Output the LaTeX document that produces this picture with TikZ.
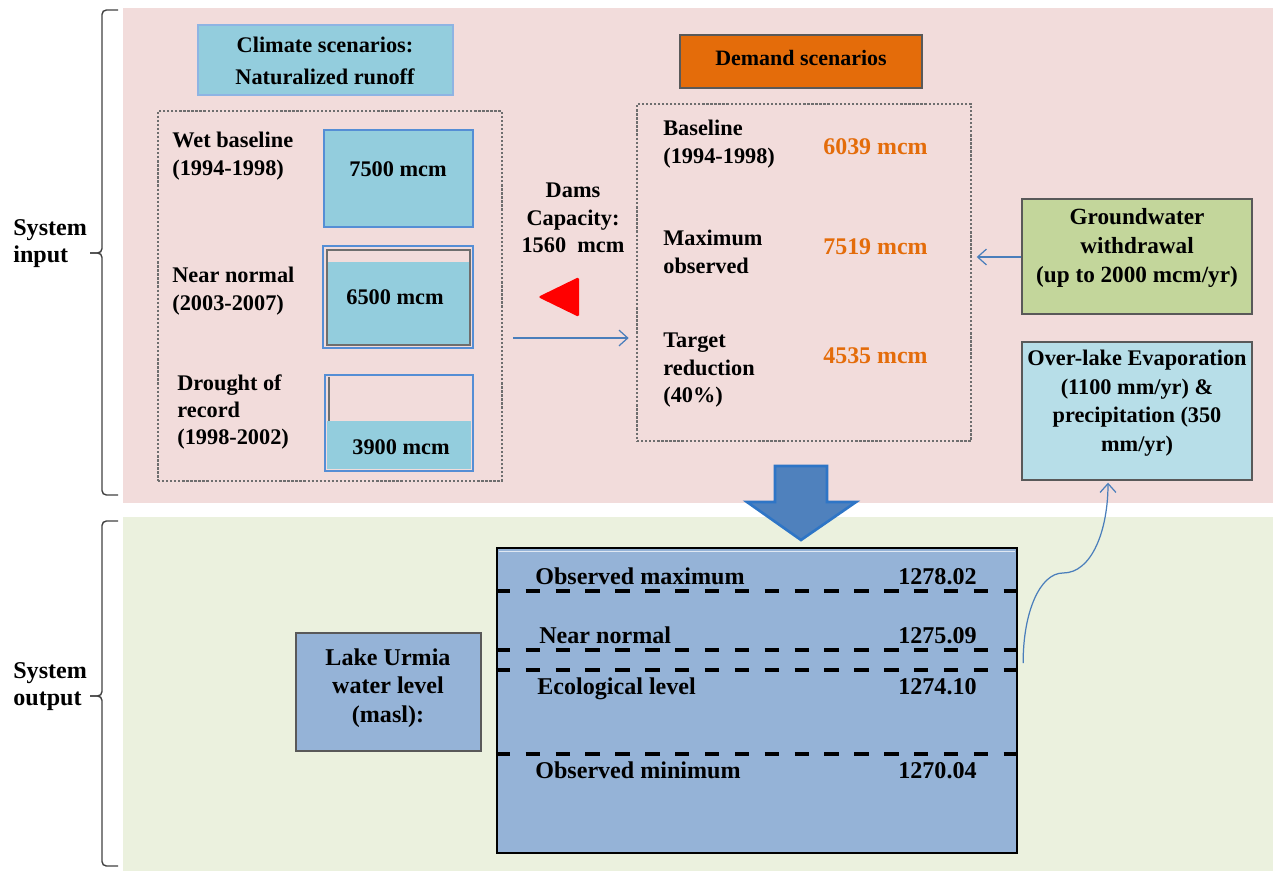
\documentclass[tikz,border=0pt]{standalone}
\usepackage{fontspec}
\setmainfont{Liberation Serif}
\usetikzlibrary{arrows.meta,fit,calc}
\definecolor{pinkbg}{HTML}{F2DCDB}
\definecolor{greenbg}{HTML}{EBF1DE}
\definecolor{climfill}{HTML}{93CDDD}
\definecolor{climborder}{HTML}{8EB4E3}
\definecolor{boxblue}{HTML}{558ED5}
\definecolor{demfill}{HTML}{E46C0A}
\definecolor{gwfill}{HTML}{C3D69B}
\definecolor{olfill}{HTML}{B7DEE8}
\definecolor{lakefill}{HTML}{95B3D7}
\definecolor{arrowfill}{HTML}{4F81BD}
\definecolor{arrowborder}{HTML}{2E75C6}
\definecolor{linkblue}{HTML}{4A7EBB}
\definecolor{orangetxt}{HTML}{E46C0A}
\definecolor{darkborder}{HTML}{595959}
\definecolor{dotgray}{HTML}{6E6E6E}
\definecolor{bracegray}{HTML}{404040}
\begin{document}
\begin{tikzpicture}[x=0.02cm,y=-0.02cm,
  txt/.style={inner sep=0pt, font=\bfseries\fontsize{12.7}{15.5}\selectfont},
  bigtxt/.style={inner sep=0pt, font=\bfseries\fontsize{13.7}{16.4}\selectfont},
  orange/.style={inner sep=0pt, text=orangetxt, font=\bfseries\fontsize{13.6}{15.9}\selectfont},
  frame/.style={inner sep=0pt, fit={#1}},
  dottedbox/.style={draw=dotgray, line width=1.5pt, dash pattern=on 1.3pt off 1pt},
  mcmbox/.style={draw=boxblue, line width=1.2pt},
  greybox/.style={draw=darkborder, line width=0.8pt},
  levelline/.style={line width=2.7pt, dash pattern=on 8.2pt off 8.8pt},
  linkarrow/.style={draw=linkblue, line width=0.7pt, -{Straight Barb[length=5pt,width=9pt]}},
  bracepath/.style={draw=bracegray, line width=0.8pt, rounded corners=2.5pt},
]
\useasboundingbox (0,0) rectangle (1273,871);
% backgrounds
\fill[pinkbg] (123,8) rectangle (1273,503);
\fill[greenbg] (123,517) rectangle (1273,871);

% braces
\draw[bracepath] (118,10) -- (102,10) -- (102,253) -- (90,253);
\draw[bracepath] (90,253) -- (102,253) -- (102,495) -- (118,495);
\draw[bracepath] (118,521) -- (102,521) -- (102,696) -- (90,696);
\draw[bracepath] (90,696) -- (102,696) -- (102,866) -- (118,866);
\node[bigtxt, anchor=north west, align=left, font=\bfseries\fontsize{13.7}{15.3}\selectfont] (sysin) at (13,219) {System\\input};
\node[bigtxt, anchor=north west, align=left, font=\bfseries\fontsize{13.7}{15.3}\selectfont] (sysout) at (13,662) {System\\output};

% climate scenarios
\node[frame={(198,25) (453,95)}, fill=climfill, draw=climborder, line width=0.8pt] (clim) {};
\node[txt, anchor=north, align=center, font=\bfseries\fontsize{12.7}{18}\selectfont] (climtxt) at (325,37) {Climate scenarios:\\Naturalized runoff};

\node[frame={(158,111) (502,481)}, dottedbox] (climbox) {};
\node[txt, anchor=north west, align=left] (twet) at (172,132) {Wet baseline\\(1994-1998)};
\node[txt, anchor=north west, align=left] (tnear) at (172,267) {Near normal\\(2003-2007)};
\node[txt, anchor=north west, align=left] (tdrought) at (177,374) {Drought of\\record\\(1998-2002)};

% 7500 box
\node[frame={(324,130) (473,227)}, fill=climfill, mcmbox] (b1) {};
\node[txt, anchor=base west] (b1t) at (349,177) {7500 mcm};
% 6500 box
\node[frame={(323,246) (473,348)}, mcmbox] (b2) {};
\fill[pinkbg] (327,250) rectangle (470,262);
\fill[climfill] (327,262) rectangle (470,345);
\draw[dotgray, line width=0.6pt] (327,250) rectangle (470,345);
\node[txt, anchor=base west] (b2t) at (346,304) {6500 mcm};
% 3900 box
\node[frame={(325,375) (473,471)}, mcmbox] (b3) {};
\fill[climfill] (327,421) rectangle (471,469);
\draw[dotgray, line width=0.6pt] (329,377) -- (329,421);
\node[txt, anchor=base west] (b3t) at (352,454) {3900 mcm};

% dams
\node[txt, anchor=north, align=center] (dams) at (573,183) {Dams\\Capacity:\\1560~~mcm};
\fill[red, rounded corners=1pt] (538,297) -- (579,277) -- (579,317) -- cycle;

% demand scenarios
\node[frame={(680,35) (922,88)}, fill=demfill, draw=darkborder, line width=0.6pt] (dem) {};
\node[txt, anchor=base, font=\bfseries\fontsize{12.5}{15}\selectfont] (demtxt) at (801,66) {Demand scenarios};

\node[frame={(637,104) (971,441)}, dottedbox] (demandbox) {};
\node[txt, anchor=north west, align=left] (tbase) at (663,120) {Baseline\\(1994-1998)};
\node[txt, anchor=north west, align=left] (tmax) at (663,230) {Maximum\\observed};
\node[txt, anchor=north west, align=left] (ttarget) at (663,333) {Target\\reduction\\(40\%)};
\node[orange, anchor=base west] (v1) at (823,155) {6039 mcm};
\node[orange, anchor=base west] (v2) at (823,255) {7519 mcm};
\node[orange, anchor=base west] (v3) at (823,363) {4535 mcm};

% climate -> demand arrow
\coordinate (ylink) at (0,338);
\draw[linkarrow, shorten >=4pt] ([xshift=0.2cm]climbox.east |- ylink) -- (demandbox.west |- ylink);

% groundwater
\node[frame={(1022,199) (1252,314)}, fill=gwfill, greybox] (gw) {};
\node[txt, anchor=north, align=center, font=\bfseries\fontsize{13.2}{16.5}\selectfont] (gwtxt) at (1137,208) {Groundwater\\withdrawal\\(up to 2000 mcm/yr)};
\draw[linkarrow, shorten >=2.5pt] (gw.west |- 0,257) -- (demandbox.east |- 0,257);

% over-lake
\node[frame={(1022,342) (1252,480)}, fill=olfill, greybox] (ol) {};
\node[txt, anchor=north, align=center, font=\bfseries\fontsize{12.7}{16.2}\selectfont] (oltxt) at (1137,350) {Over-lake Evaporation\\(1100 mm/yr) \&\\precipitation (350\\mm/yr)};

% big down arrow
\draw[fill=arrowfill, draw=arrowborder, line width=1.5pt, line join=miter]
  (775,466) -- (827,466) -- (827,502) -- (856,502) -- (801,540) -- (747,502) -- (775,502) -- cycle;

% lake urmia label box
\node[frame={(296,633) (481,751)}, fill=lakefill, greybox] (lu) {};
\node[bigtxt, anchor=north, align=center] (lutxt) at (388,648) {Lake Urmia\\water level\\(masl):};

% lake levels box
\node[frame={(497,548) (1017,853)}, fill=lakefill, draw=black, line width=1.3pt] (lake) {};
\draw[white!70!lakefill, line width=0.8pt] (499,551.5) -- (1015,551.5);
\foreach \yy in {591,650,670,754} {\draw[levelline] (lake.west |- 0,\yy) -- (lake.east |- 0,\yy);}
\node[bigtxt, anchor=base west] (l1) at (535,584) {Observed maximum};
\node[bigtxt, anchor=base west] (l1v) at (898,584) {1278.02};
\node[bigtxt, anchor=base west] (l2) at (539,643) {Near normal};
\node[bigtxt, anchor=base west] (l2v) at (898,643) {1275.09};
\node[bigtxt, anchor=base west] (l3) at (537,694) {Ecological level};
\node[bigtxt, anchor=base west] (l3v) at (898,694) {1274.10};
\node[bigtxt, anchor=base west] (l4) at (535,778) {Observed minimum};
\node[bigtxt, anchor=base west] (l4v) at (898,778) {1270.04};

% curved arrow lake -> over-lake
\coordinate (cs) at ($(lake.east |- 0,663)+(5,0)$);
\coordinate (ce) at ($(ol.south)+(-29,2)$);
\draw[linkarrow] (cs) .. controls (1023,612) and (1040,573) .. (1063,573)
  .. controls (1092,573) and (1108,530) .. (ce);
\end{tikzpicture}
\end{document}
